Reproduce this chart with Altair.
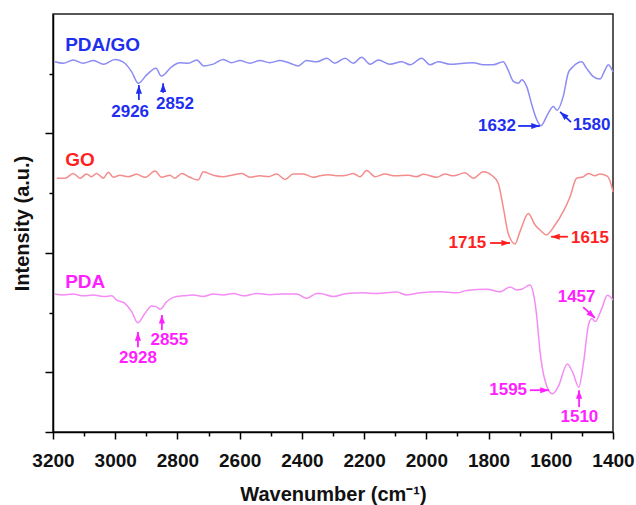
import altair as alt
import pandas as pd

# ---------------- data ----------------
wn_pdago = [3194, 3167, 3135, 3103, 3070, 3038, 3001, 2969, 2947, 2926, 2899, 2869, 2852, 2818,
            2792, 2765, 2738, 2715, 2685, 2653, 2626, 2599, 2567, 2535, 2503, 2470, 2438, 2412,
            2385, 2352, 2320, 2294, 2261, 2235, 2208, 2181, 2154, 2117, 2079, 2052, 2015, 1988,
            1962, 1924, 1881, 1849, 1817, 1785, 1753, 1737, 1720, 1704, 1693, 1677, 1661, 1645,
            1632, 1608, 1592, 1580, 1560, 1544, 1528, 1501, 1485, 1463, 1442, 1426, 1415, 1400]
int_pdago = [6.20, 6.175, 6.23, 6.175, 6.22, 6.16, 6.24, 6.175, 6.03, 5.84, 5.98, 6.09, 5.96, 6.12,
             6.185, 6.175, 6.23, 6.13, 6.16, 6.24, 6.185, 6.22, 6.175, 6.22, 6.185, 6.22, 6.175, 6.13,
             6.22, 6.20, 6.26, 6.175, 6.26, 6.175, 6.275, 6.16, 6.23, 6.16, 6.20, 6.15, 6.26, 6.15,
             6.20, 6.16, 6.175, 6.185, 6.15, 6.15, 6.20, 6.06, 5.87, 5.84, 5.90, 5.78, 5.48, 5.23,
             5.13, 5.34, 5.45, 5.39, 5.62, 6.01, 6.12, 6.20, 6.09, 5.95, 5.91, 6.06, 6.15, 6.03]

wn_go = [3188, 3161, 3135, 3113, 3092, 3076, 3060, 3038, 3022, 3006, 2985, 2958, 2931, 2904,
         2872, 2851, 2824, 2808, 2786, 2760, 2733, 2717, 2685, 2653, 2626, 2593, 2567, 2535,
         2508, 2481, 2454, 2428, 2395, 2363, 2342, 2315, 2283, 2256, 2235, 2213, 2192, 2165,
         2133, 2101, 2058, 2031, 2010, 1967, 1940, 1913, 1876, 1849, 1817, 1790, 1769, 1753,
         1737, 1715, 1699, 1672, 1651, 1629, 1615, 1586, 1560, 1538, 1517, 1495, 1479, 1458,
         1442, 1420, 1404, 1400]
int_go = [4.25, 4.25, 4.33, 4.25, 4.32, 4.275, 4.33, 4.25, 4.35, 4.265, 4.30, 4.275, 4.315, 4.265,
          4.37, 4.265, 4.30, 4.25, 4.33, 4.265, 4.22, 4.36, 4.30, 4.275, 4.30, 4.33, 4.265, 4.29,
          4.275, 4.32, 4.23, 4.32, 4.32, 4.265, 4.29, 4.31, 4.29, 4.30, 4.33, 4.275, 4.38, 4.275,
          4.32, 4.29, 4.30, 4.275, 4.315, 4.265, 4.32, 4.29, 4.34, 4.25, 4.36, 4.30, 4.165, 3.77,
          3.33, 3.15, 3.355, 3.66, 3.47, 3.355, 3.30, 3.47, 3.69, 3.94, 4.25, 4.275, 4.33, 4.29,
          4.32, 4.29, 4.11, 4.02]

wn_pda = [3194, 3167, 3135, 3103, 3070, 3038, 3011, 2995, 2969, 2947, 2928, 2904, 2883, 2869,
          2855, 2835, 2813, 2781, 2749, 2717, 2685, 2653, 2620, 2588, 2545, 2503, 2460, 2417,
          2385, 2352, 2342, 2299, 2256, 2203, 2160, 2095, 2063, 2020, 1956, 1902, 1870, 1806,
          1763, 1731, 1710, 1694, 1667, 1656, 1645, 1635, 1619, 1595, 1576, 1547, 1528, 1510,
          1495, 1479, 1468, 1457, 1436, 1418, 1400]
int_pda = [2.31, 2.295, 2.31, 2.28, 2.295, 2.27, 2.28, 2.21, 2.155, 2.015, 1.83, 1.99, 2.11, 2.10,
           2.055, 2.18, 2.255, 2.28, 2.295, 2.27, 2.31, 2.295, 2.32, 2.28, 2.32, 2.30, 2.31, 2.31,
           2.24, 2.32, 2.32, 2.27, 2.32, 2.33, 2.32, 2.345, 2.295, 2.33, 2.35, 2.33, 2.37, 2.39,
           2.35, 2.43, 2.38, 2.39, 2.46, 2.32, 1.93, 1.37, 0.87, 0.64, 0.76, 1.14, 0.98, 0.75,
           1.15, 1.79, 1.90, 1.85, 2.07, 2.29, 2.21]

series_names = ["PDA/GO", "GO", "PDA"]
line_colors = ["#8c8cf2", "#f48c8c", "#f48cf4"]
text_colors = ["#1f2ff0", "#ff1f1f", "#ff1fff"]

# series name labels (wavenumber, intensity)
name_wn = [3161, 3161, 3161]
name_int = [6.48, 4.555, 2.51]

# peak labels
peak_series = ["PDA/GO", "PDA/GO", "PDA/GO", "PDA/GO", "GO", "GO", "PDA", "PDA", "PDA", "PDA", "PDA"]
peak_text = ["2926", "2852", "1632", "1580", "1715", "1615", "2928", "2855", "1457", "1595", "1510"]
peak_wn = [2952, 2808, 1773, 1469, 1868, 1474, 2927, 2826, 1517, 1737, 1508]
peak_int = [5.36, 5.49, 5.125, 5.14, 3.165, 3.25, 1.24, 1.54, 2.26, 0.70, 0.25]

# arrows: tail -> head
arr_wn0 = [2924, 2846, 1705, 1535, 1795, 1545, 2927, 2850, 1496, 1667, 1509]
arr_i0 = [5.56, 5.68, 5.125, 5.19, 3.165, 3.27, 1.42, 1.71, 2.09, 0.70, 0.42]
arr_wn1 = [2924, 2846, 1635, 1570, 1731, 1599, 2927, 2850, 1458, 1606, 1509]
arr_i1 = [5.81, 5.84, 5.125, 5.36, 3.165, 3.27, 1.675, 1.96, 1.91, 0.70, 0.70]
arr_angle = [0, 0, 90, 312, 90, 270, 0, 0, 132, 90, 0]

major_x = [3200, 3000, 2800, 2600, 2400, 2200, 2000, 1800, 1600, 1400]
minor_x = [3100, 2900, 2700, 2500, 2300, 2100, 1900, 1700, 1500]
major_y = [0, 1, 3, 5]
minor_y = [2, 4, 6]

# ---------------- tables ----------------
rows = []
for name, wns, ints in zip(series_names, [wn_pdago, wn_go, wn_pda], [int_pdago, int_go, int_pda]):
    for k, (w, v) in enumerate(zip(wns, ints)):
        rows.append({"series": name, "wn": w, "inten": v, "order": k})
df = pd.DataFrame(rows)

df_names = pd.DataFrame({"series": series_names, "wn": name_wn, "inten": name_int})
df_peaks = pd.DataFrame({"series": peak_series, "label": peak_text, "wn": peak_wn, "inten": peak_int})
df_arr = pd.DataFrame({"series": peak_series, "wn0": arr_wn0, "i0": arr_i0,
                       "wn1": arr_wn1, "i1": arr_i1, "angle": arr_angle})

FONT = "Liberation Sans"
xscale = alt.Scale(domain=[1400, 3200], reverse=True, nice=False, zero=False)
yscale = alt.Scale(domain=[0, 7], nice=False, zero=False)
line_color = alt.Color("series:N", scale=alt.Scale(domain=series_names, range=line_colors), legend=None)
text_color = alt.Color("series:N", scale=alt.Scale(domain=series_names, range=text_colors), legend=None)

main_x_axis = alt.Axis(values=major_x, orient="bottom", title="Wavenumber (cm⁻¹)", grid=False,
                       tickSize=7, tickWidth=1.5, tickColor="black", domainColor="black",
                       domainWidth=1.5, labelFont=FONT, labelFontSize=19, labelFontWeight="bold",
                       labelColor="#111", labelPadding=12, labelOverlap=False, labelFlush=False,
                       labelBound=False,
                       titleFont=FONT, titleFontSize=20,
                       titleFontWeight="bold", titleColor="#111", titlePadding=14, format="d")
main_y_axis = alt.Axis(values=major_y, orient="left", title="Intensity (a.u.)", grid=False,
                       labels=False, tickSize=8, tickWidth=1.5, tickColor="black",
                       domainColor="black", domainWidth=1.5, titleFont=FONT, titleFontSize=20,
                       titleFontWeight="bold", titleColor="#111", titlePadding=12)
minor_x_axis = alt.Axis(values=minor_x, orient="bottom", title=None, grid=False, labels=False,
                        domain=False, tickSize=4, tickWidth=1.5, tickColor="black")
minor_y_axis = alt.Axis(values=minor_y, orient="left", title=None, grid=False, labels=False,
                        domain=False, tickSize=4, tickWidth=1.5, tickColor="black")

lines = alt.Chart(df).mark_line(strokeWidth=1.5, interpolate="monotone").encode(
    x=alt.X("wn:Q", scale=xscale, axis=main_x_axis),
    y=alt.Y("inten:Q", scale=yscale, axis=main_y_axis),
    color=line_color,
    detail="series:N",
    order="order:Q",
)

arrows = alt.Chart(df_arr).mark_rule(strokeWidth=1.8).encode(
    x=alt.X("wn0:Q", scale=xscale, axis=minor_x_axis),
    y=alt.Y("i0:Q", scale=yscale, axis=minor_y_axis),
    x2="wn1:Q",
    y2="i1:Q",
    color=text_color,
)

heads = alt.Chart(df_arr).mark_point(
    shape="M0,0 L-0.85,2.4 L0.85,2.4 Z", filled=True, size=52, opacity=1
).encode(
    x=alt.X("wn1:Q", scale=xscale, axis=None),
    y=alt.Y("i1:Q", scale=yscale, axis=None),
    angle=alt.Angle("angle:Q", scale=None),
    color=text_color,
)

names = alt.Chart(df_names).mark_text(
    align="left", baseline="middle", font=FONT, fontSize=19, fontWeight="bold"
).encode(
    x=alt.X("wn:Q", scale=xscale, axis=None),
    y=alt.Y("inten:Q", scale=yscale, axis=None),
    text="series:N",
    color=text_color,
)

peaks = alt.Chart(df_peaks).mark_text(
    align="center", baseline="middle", font=FONT, fontSize=17, fontWeight="bold"
).encode(
    x=alt.X("wn:Q", scale=xscale, axis=None),
    y=alt.Y("inten:Q", scale=yscale, axis=None),
    text="label:N",
    color=text_color,
)

chart = alt.layer(lines, arrows, heads, names, peaks).resolve_scale(
    color="independent"
).resolve_axis(
    x="independent", y="independent"
).properties(
    width=560, height=418,
    autosize=alt.AutoSizeParams(type="none"),
    padding={"left": 53, "top": 14, "right": 23, "bottom": 73},
    background="white",
).configure_view(
    stroke="#222", strokeWidth=1.5
)

chart.save("out.html", embed_options={"renderer": "svg", "actions": False})
